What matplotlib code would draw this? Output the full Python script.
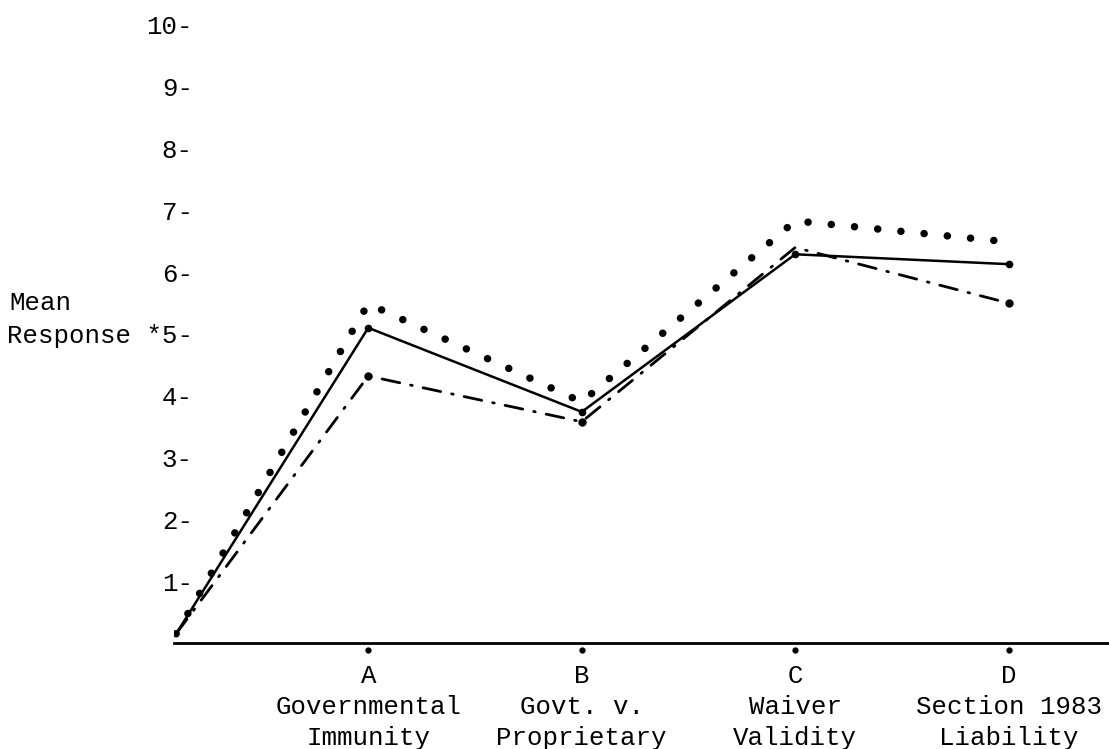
import matplotlib.pyplot as plt
from matplotlib.transforms import blended_transform_factory

# category labels on the x axis
categories = ['A', 'B', 'C', 'D']
names = ['Governmental\nImmunity', 'Govt. v.\nProprietary',
         'Waiver\nValidity', 'Section 1983\nLiability']
cat_x = [1, 2, 3, 4]

# every line starts near the origin
x = [0.1] + cat_x
solid = [0.15, 5.10, 3.74, 6.29, 6.13]
dotted = [0.15, 5.49, 3.90, 6.83, 6.49]
dashdot = [0.15, 4.32, 3.58, 6.40, 5.50]

yticks = list(range(1, 11))
ylabels = ['Response *5-' if v == 5 else f'{v}-' for v in yticks]

plt.rcParams['font.family'] = ['Liberation Mono', 'DejaVu Sans Mono']
FS = 18.5
FW = 'normal'

fig = plt.figure(figsize=(11.09, 7.49), dpi=100)
W, H = 1109, 749
ax = fig.add_axes([174 / W, (H - 643) / H, 1 - 174 / W, 10.3 * 61.8 / H])
ax.set_xlim(0.09, 4.47)
ax.set_ylim(0, 10.3)

ax.plot(x, solid, color='black', lw=1.8,
        marker='o', ms=4.5, markevery=[1, 2, 3, 4])
ax.plot(x, dotted, color='black', lw=5.4,
        linestyle=(0, (0.01, 3.1)), dash_capstyle='round')
ax.plot(x, dashdot, color='black', lw=2.0,
        linestyle=(0, (6.5, 4.0, 0.6, 4.0)), dash_capstyle='round',
        marker='o', ms=5, markevery=[1, 2, 4])

for s in ['left', 'top', 'right']:
    ax.spines[s].set_visible(False)
ax.spines['bottom'].set_linewidth(2.0)

ax.set_yticks(yticks)
ax.set_yticklabels(ylabels, fontsize=FS, fontweight=FW)
ax.tick_params(axis='y', length=0, pad=-13.5)

ax.set_xticks(cat_x)
ax.set_xticklabels([f'{c}\n{n}' for c, n in zip(categories, names)],
                   fontsize=FS, fontweight=FW, linespacing=1.38)
ax.tick_params(axis='x', length=0, pad=15)
# small dots under the axis at each category
ax.plot(cat_x, [-0.12] * 4, 'o', color='black', ms=3.5, clip_on=False)

trans = blended_transform_factory(fig.transFigure, ax.transData)
ax.text(9 / W, 5.5, 'Mean', fontsize=FS, fontweight=FW, ha='left',
        va='center', transform=trans)

fig.savefig('out.png', dpi=100)
